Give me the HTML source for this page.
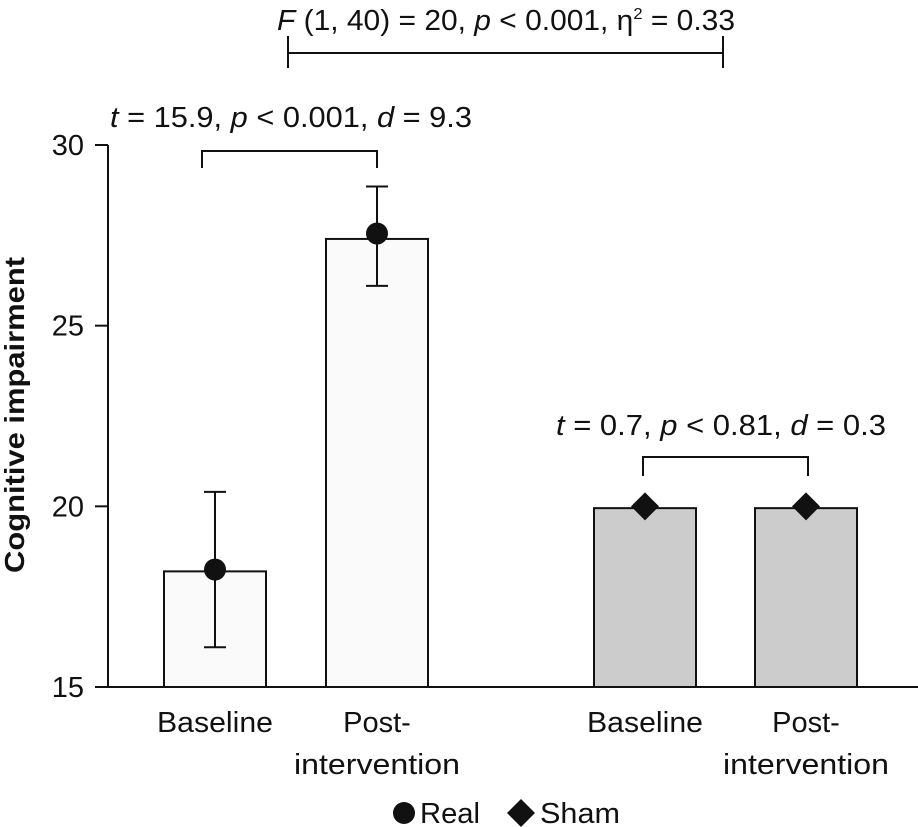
<!DOCTYPE html>
<html><head><meta charset="utf-8"><style>
body{margin:0;background:#fff}
svg text{font-family:"Liberation Sans","DejaVu Sans",sans-serif;fill:#111}
</style></head><body>
<div style="position:relative;width:918px;height:827px">
<svg id="chart" width="918" height="827" viewBox="0 0 918 827" style="position:absolute;left:0;top:0">
</svg>
<svg width="918" height="827" style="position:absolute;left:0;top:0">
<text x="277" y="30" font-size="29" textLength="458" lengthAdjust="spacingAndGlyphs"><tspan font-style="italic">F</tspan> (1, 40) = 20, <tspan font-style="italic">p</tspan> &lt; 0.001, η<tspan font-size="16" dy="-11">2</tspan><tspan dy="11"> = 0.33</tspan></text>
<text x="110" y="127" font-size="29" textLength="362" lengthAdjust="spacingAndGlyphs"><tspan font-style="italic">t</tspan> = 15.9, <tspan font-style="italic">p</tspan> &lt; 0.001, <tspan font-style="italic">d</tspan> = 9.3</text>
<text x="556" y="435" font-size="29" textLength="330" lengthAdjust="spacingAndGlyphs"><tspan font-style="italic">t</tspan> = 0.7, <tspan font-style="italic">p</tspan> &lt; 0.81, <tspan font-style="italic">d</tspan> = 0.3</text>
<g>
<circle cx="404" cy="813" r="11" fill="#111"/>
<text x="420" y="823" font-size="29" textLength="60" lengthAdjust="spacingAndGlyphs">Real</text>
<polygon points="521,799 535,813 521,827 507,813" fill="#111"/>
<text x="540" y="823" font-size="29" textLength="80" lengthAdjust="spacingAndGlyphs">Sham</text>
</g>
</svg>
</div>
<script>
const categories = ["Baseline", "Post-intervention", "Baseline", "Post-intervention"];
const groups = ["Real", "Real", "Sham", "Sham"];
const barValues = [18.2, 27.4, 19.95, 19.95];
const pointValues = [18.25, 27.55, 20, 20];
const errLow = [16.1, 26.1, 20, 20];
const errHigh = [20.4, 28.85, 20, 20];
const yTicks = [15, 20, 25, 30];

const svg = document.getElementById('chart');
const NS = 'http://www.w3.org/2000/svg';
const centers = [215, 377, 645, 806];
const barW = 102;
function y(v){ return 687 - (v - 15) * (542 / 15); }
function mk(tag, attrs, parent){
  const e = document.createElementNS(NS, tag);
  for (const k in attrs) e.setAttribute(k, attrs[k]);
  (parent || svg).appendChild(e);
  return e;
}
let ax = mk('line', {x1:108, y1:y(30), x2:108, y2:688, stroke:'#111', 'stroke-width':2});


let bx = mk('line', {x1:107, y1:687, x2:918, y2:687, stroke:'#111', 'stroke-width':2});


yTicks.forEach(t => {
  mk('line', {x1:95, y1:y(t), x2:108, y2:y(t), stroke:'#111', 'stroke-width':2});
  const tx = mk('text', {x:84, y:y(t)+10, 'text-anchor':'end', 'font-size':29});
  tx.textContent = t;
  
  
});
const yt = mk('text', {x:0, y:0, transform:'translate(24,415) rotate(-90)', 'text-anchor':'middle', 'font-size':28, 'font-weight':'bold', textLength:316, lengthAdjust:'spacingAndGlyphs'});
yt.textContent = 'Cognitive impairment';



categories.forEach((c, i) => {
  const cx = centers[i];
  const fill = groups[i] === 'Real' ? '#fafafa' : '#cccccc';
  const r = mk('rect', {x:cx-barW/2, y:y(barValues[i]), width:barW, height:687-y(barValues[i]), fill:fill, stroke:'#111', 'stroke-width':2});
  
  
  if (errHigh[i] !== errLow[i]) {
    mk('line', {x1:cx, y1:y(errHigh[i]), x2:cx, y2:y(errLow[i]), stroke:'#111', 'stroke-width':2});
    mk('line', {x1:cx-11, y1:y(errHigh[i]), x2:cx+11, y2:y(errHigh[i]), stroke:'#111', 'stroke-width':2});
    mk('line', {x1:cx-11, y1:y(errLow[i]), x2:cx+11, y2:y(errLow[i]), stroke:'#111', 'stroke-width':2});
  }
  const py = y(pointValues[i]);
  let p;
  if (groups[i] === 'Real') p = mk('circle', {cx:cx, cy:py, r:11, fill:'#111'});
  else p = mk('polygon', {points:`${cx},${py-14} ${cx+14},${py} ${cx},${py+14} ${cx-14},${py}`, fill:'#111'});
  
  
  const words = c === 'Post-intervention' ? ['Post-', 'intervention'] : [c];
  words.forEach((w, j) => {
    const t = mk('text', {x:cx, y:732 + j*42, 'text-anchor':'middle', 'font-size':29});
    if (w === 'Baseline') { t.setAttribute('textLength', 116); t.setAttribute('lengthAdjust', 'spacingAndGlyphs'); }
    if (w === 'intervention') { t.setAttribute('textLength', 166); t.setAttribute('lengthAdjust', 'spacingAndGlyphs'); }
    t.textContent = w;
    
    
  });
});

function bracket(d, name){
  const p = mk('path', {d:d, fill:'none', stroke:'#111', 'stroke-width':2});
  
  
}
bracket('M288,36 V68 M288,53 H723 M723,36 V68', 'interaction-bracket');
bracket('M202,168 V151 H377 V168', 'real-bracket');
bracket('M643,476 V457 H808 V476', 'sham-bracket');
</script>
</body></html>
